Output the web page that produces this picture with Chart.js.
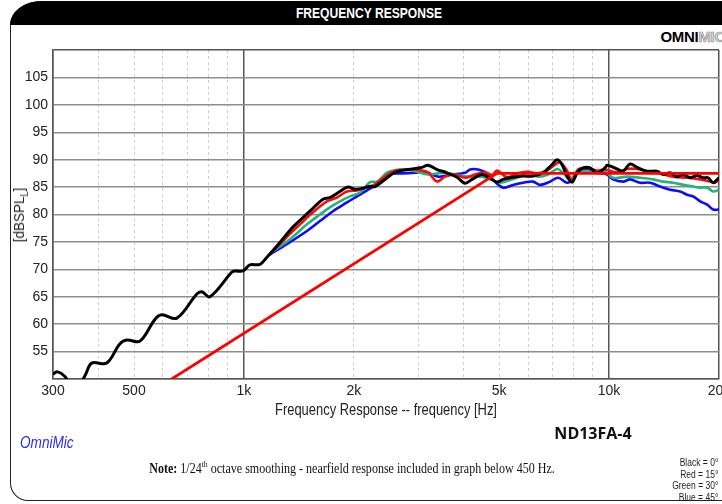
<!DOCTYPE html>
<html>
<head>
<meta charset="utf-8">
<script src="https://cdn.jsdelivr.net/npm/chart.js@4.4.1/dist/chart.umd.min.js"></script>
<style>
    html, body { margin: 0; padding: 0; background: #fff; }
    #pagina { position: relative; width: 722px; height: 504px; overflow: hidden; }
    .moldura { position: absolute; left: 10px; top: 1px; width: 760px; height: 500px;
        border: 1.5px solid #222; border-radius: 32px 0 0 18px / 24px 0 0 18px; box-sizing: border-box; }
    .barra { position: absolute; left: 10px; top: 1px; width: 760px; height: 24px; background: #000;
        border-radius: 32px 0 0 0 / 24px 0 0 0; }
    .titulo { position: absolute; left: 369px; top: 13px; transform: translate(-50%, -50%) scaleX(0.78); color: #fff;
        font: bold 15.5px "Liberation Sans", Arial, sans-serif; white-space: nowrap; }
    .logo { position: absolute; right: -3px; top: 28px; font: 900 15px "Liberation Sans", sans-serif; letter-spacing: -0.3px; }
    .logo span { color: #d8d8d8; -webkit-text-stroke: 0.6px #8a8a8a; }
    canvas { position: absolute; left: 0; top: 0; }
    .ytitulo { position: absolute; left: 20px; top: 215px; transform: translate(-50%, -50%) rotate(-90deg) scaleX(0.9);
        font: 15px "Liberation Sans", Arial, sans-serif; color: #222; white-space: nowrap; }
    .ytitulo sub { font-size: 10px; }
    .xtitulo { position: absolute; left: 386px; top: 410px; transform: translate(-50%, -50%) scaleX(0.76);
        font: 17px "Liberation Sans", Arial, sans-serif; color: #222; white-space: nowrap; }
    .modelo { position: absolute; left: 593px; top: 433px; transform: translate(-50%, -50%);
        font: bold 16px "Open Sans", "Noto Sans", sans-serif; color: #111; white-space: nowrap; }
    .marca { position: absolute; left: 20px; top: 433px; transform: scaleX(0.8); transform-origin: left center;
        font: italic 17px "Liberation Sans", Arial, sans-serif; color: #2b2bff; }
    .nota { position: absolute; left: 352px; top: 468px; transform: translate(-50%, -50%) scaleX(0.86);
        font: 14px "Liberation Serif", "DejaVu Serif", serif; color: #111; white-space: nowrap; }
    .nota sup { font-size: 9px; }
    .legenda { position: absolute; right: 4px; top: 457px; text-align: right; transform: scaleX(0.85); transform-origin: right top;
        font: 10px "Liberation Sans", Arial, sans-serif; line-height: 11.5px; color: #222; }
</style>
</head>
<body>
<div id="pagina">
    <div class="moldura"></div>
    <div class="barra"></div>
    <div class="titulo">FREQUENCY RESPONSE</div>
    <div class="logo"><b>OMNI</b><span>MIC</span></div>
    <canvas id="grafico" width="722" height="504"></canvas>
    <div class="ytitulo">[dBSPL<sub>L</sub>]</div>
    <div class="xtitulo">Frequency Response -- frequency [Hz]</div>
    <div class="modelo">ND13FA-4</div>
    <div class="marca">OmniMic</div>
    <div class="nota"><b>Note:</b> 1/24<sup>th</sup> octave smoothing - nearfield response included in graph below 450 Hz.</div>
    <div class="legenda">Black = 0°<br>Red = 15°<br>Green = 30°<br>Blue = 45°</div>
</div>
<script>
// eixo X (Hz)
const ticksX = [300, 400, 500, 600, 700, 800, 900, 1000, 2000, 3000, 4000, 5000, 6000, 7000, 8000, 9000, 10000, 20000];
const rotulosX = ["300", "", "500", "", "", "", "", "1k", "2k", "", "", "5k", "", "", "", "", "10k", "20k"];
const linhasPrincipais = [300, 1000, 10000, 20000];

// 0 graus (preto), inclui resposta nearfield abaixo de 450 Hz
const freqPreto = [300, 309, 323, 335, 352, 367, 383, 421, 457, 478, 519, 571, 596, 655, 743, 767, 807, 927, 945, 994,
    1038, 1106, 1156, 1255, 1362, 1516, 1646, 1720, 1832, 1927, 2015, 2118, 2214, 2285, 2434, 2593, 2814, 3074, 3192,
    3379, 3599, 3834, 4032, 4214, 4489, 4781, 4934, 5124, 5458, 5813, 6192, 6595, 6981, 7205, 7435, 7673, 7919, 8172,
    8487, 8869, 9271, 9750, 9874, 10520, 10920, 11420, 11930, 12710, 13540, 14060, 14700, 15360, 15950, 16670, 17420,
    18090, 18670, 19270, 20000];
const dbPreto = [50.9, 51.3, 50.5, 49.0, 48.8, 50.6, 52.9, 52.9, 56.4, 57.1, 56.9, 60.9, 61.7, 61.1, 65.5, 65.9, 65.0, 69.5, 69.7, 69.7,
    70.8, 70.9, 72.2, 74.9, 77.7, 80.6, 82.8, 83.1, 84.2, 85.0, 84.6, 84.8, 85.1, 85.1, 86.4, 87.7, 88.2, 88.6, 89.0,
    88.2, 87.6, 86.8, 85.7, 86.4, 87.3, 86.4, 85.9, 86.4, 86.8, 87.0, 87.0, 87.6, 89.1, 90.0, 89.1, 87.0, 85.9, 87.6,
    88.5, 88.5, 87.6, 88.5, 89.0, 88.3, 87.9, 89.2, 88.6, 87.9, 87.9, 87.3, 87.6, 86.9, 87.3, 86.7, 87.1,
    86.7, 86.7, 85.8, 86.7];

// 15 graus (vermelho)
const freqVermelho = [1170, 1201, 1311, 1424, 1545, 1688, 1798, 1915, 2040, 2173, 2285, 2434, 2593, 2886, 3074, 3192,
    3379, 3554, 3786, 4032, 4295, 4574, 4781, 4934, 5255, 5597, 5961, 6350, 6763, 7114, 7342, 7673, 7919, 8224, 8703,
    9271, 9750, 10520, 11200, 11930, 12710, 13800, 14980, 16360, 17760, 18910, 19520, 20000];
const dbVermelho = [72.6, 73.3, 75.9, 78.2, 80.4, 82.4, 83.1, 84.2, 84.4, 85.0, 85.5, 86.9, 88.0, 88.2, 88.0, 87.7,
    86.0, 86.9, 87.3, 86.7, 87.3, 87.7, 87.2, 88.0, 86.8, 87.5, 87.8, 87.5, 88.0, 89.1, 89.5, 88.0, 86.2, 88.2, 88.5,
    88.0, 88.2, 87.7, 88.3, 88.3, 87.9, 87.5, 86.9, 86.7, 86.4, 86.0, 85.8, 86.4];

// 30 graus (verde)
const freqVerde = [1170, 1201, 1337, 1488, 1615, 1720, 1832, 1952, 2079, 2214, 2314, 2480, 2710, 2941, 3192, 3487,
    3786, 4109, 4489, 4781, 5028, 5355, 5704, 5998, 6390, 6806, 7205, 7482, 7820, 8172, 8703, 9271, 9750, 10250,
    11200, 12160, 13200, 14060, 14980, 15950, 16990, 17760, 18560, 19270, 20000];
const dbVerde = [72.6, 73.3, 75.5, 78.2, 80.0, 81.3, 82.4, 83.3, 84.0, 85.9, 86.0, 87.7, 88.2, 87.9, 87.3, 87.6,
    87.3, 86.9, 86.9, 86.3, 85.8, 86.3, 86.9, 87.8, 86.9, 87.3, 88.3, 87.6, 86.3, 87.8, 87.8, 87.6, 87.8, 86.7,
    86.9, 86.7, 86.4, 86.0, 85.8, 85.4, 85.1, 84.9, 84.9, 84.2, 84.5];

// 45 graus (azul)
const freqAzul = [1178, 1311, 1488, 1615, 1753, 1915, 2040, 2173, 2285, 2480, 2710, 2941, 3133, 3400, 3715, 4032,
    4161, 4377, 4661, 4781, 5124, 5458, 5813, 6192, 6471, 6893, 7250, 7673, 7969, 8328, 8869, 9330, 9874, 10250,
    10920, 11420, 12160, 12950, 13800, 14700, 15650, 16360, 16990, 17760, 18560, 19270, 20000];
const dbAzul = [72.7, 74.6, 77.0, 78.8, 80.6, 82.2, 83.3, 84.4, 85.3, 87.3, 87.5, 87.6, 87.8, 86.9, 87.3, 87.6,
    88.2, 88.2, 87.4, 86.5, 84.9, 85.4, 85.8, 86.0, 85.4, 86.0, 86.7, 85.8, 86.3, 88.2, 88.2, 87.6, 87.3, 86.4,
    86.0, 86.4, 85.8, 85.8, 85.1, 84.5, 84.2, 83.6, 83.3, 82.4, 81.8, 80.9, 80.9];

// linha de referencia (vermelha, reta)
const freqReferencia = [634, 4934, 20000];
const dbReferencia = [50, 87.5, 87.5];

const fonteEixo = "\"Liberation Sans\", Arial, sans-serif";

function pontos(freqs, valores) {
    return freqs.map((f, i) => ({ x: f, y: valores[i] }));
}

function serie(freqs, valores, cor, largura) {
    return {
        data: pontos(freqs, valores),
        borderColor: cor,
        borderWidth: largura,
        pointRadius: 0,
        tension: 0.35,
        fill: false
    };
}

const ctx = document.getElementById("grafico").getContext("2d");

new Chart(ctx, {
    type: "line",
    data: {
        datasets: [
            { ...serie(freqReferencia, dbReferencia, "#ff0000", 2.8), tension: 0 },
            serie(freqPreto, dbPreto, "#000000", 3),
            serie(freqVermelho, dbVermelho, "#ff0a0a", 2.6),
            serie(freqVerde, dbVerde, "#22b47a", 2.6),
            serie(freqAzul, dbAzul, "#0b0bff", 2.6)
        ]
    },
    options: {
        responsive: false,
        animation: false,
        layout: {
            padding: { left: 0, right: 3, top: 50, bottom: 104 }
        },
        plugins: {
            legend: { display: false },
            tooltip: { enabled: false }
        },
        scales: {
            x: {
                type: "logarithmic",
                min: 300,
                max: 20000,
                afterBuildTicks: (escala) => {
                    escala.ticks = ticksX.map((v) => ({ value: v }));
                },
                afterFit: (escala) => {
                    escala.height = 21;
                    escala.paddingLeft = 0;
                    escala.paddingRight = 0;
                },
                ticks: {
                    autoSkip: false,
                    maxRotation: 0,
                    minRotation: 0,
                    padding: 4,
                    color: "#222",
                    font: { size: 14, family: fonteEixo },
                    callback: (valor, indice) => rotulosX[indice]
                },
                grid: {
                    drawTicks: false,
                    color: (c) => linhasPrincipais.includes(c.tick.value) ? "#555555" : "#cfcfcf",
                    lineWidth: (c) => linhasPrincipais.includes(c.tick.value) ? 1.5 : 1
                },
                border: {
                    color: "#555555",
                    width: 1.5,
                    dash: (c) => (c.tick && !linhasPrincipais.includes(c.tick.value)) ? [3, 3] : []
                }
            },
            y: {
                min: 50,
                max: 110,
                afterFit: (escala) => {
                    escala.width = 53;
                },
                ticks: {
                    stepSize: 5,
                    padding: 5,
                    color: "#222",
                    font: { size: 14, family: fonteEixo },
                    callback: (valor) => (valor === 50 || valor === 110) ? "" : valor
                },
                grid: {
                    drawTicks: false,
                    color: (c) => c.tick.value === 110 ? "#555555" : "#8e8e8e",
                    lineWidth: 1.5
                },
                border: { color: "#555555", width: 1.5 }
            }
        }
    }
});
</script>
</body>
</html>
